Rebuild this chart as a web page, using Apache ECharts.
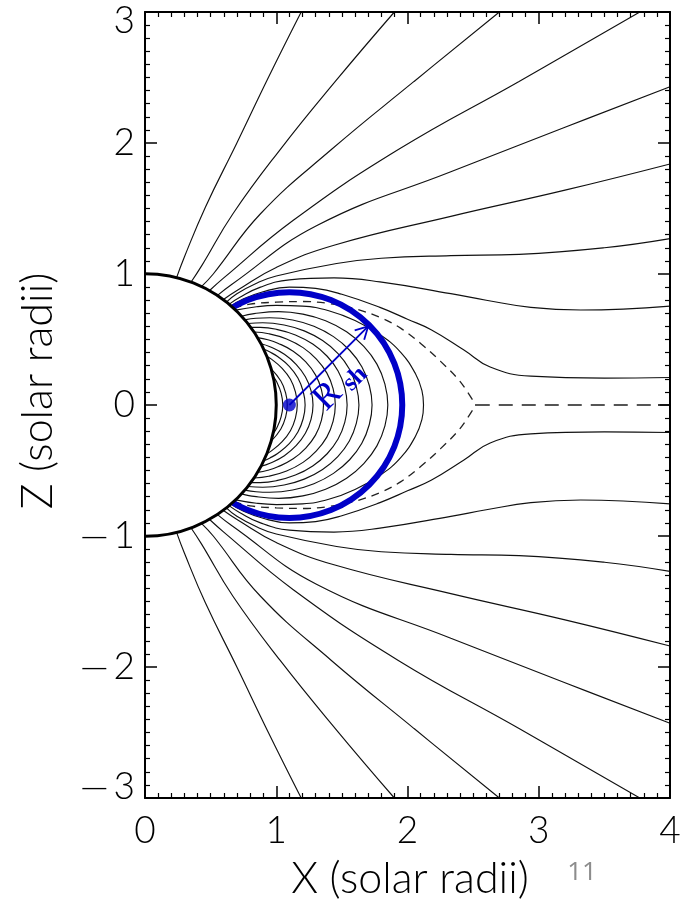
<!DOCTYPE html>
<html><head><meta charset="utf-8">
<script src="https://cdn.jsdelivr.net/npm/echarts/dist/echarts.min.js"></script>
<style>html,body{margin:0;padding:0;background:#fff}#c{width:683px;height:902px}</style>
</head><body><div id="c"></div>
<script>
// ---------- data ----------
const xTicks = [0, 1, 2, 3, 4];
const zTicks = [-3, -2, -1, 0, 1, 2, 3];
const xTitle = 'X (solar radii)';
const zTitle = 'Z (solar radii)';
const pageNumber = '11';

// Sun (center x, center z, radius) and the blue source-surface circle
const sun = [0, 0, 1];
const shieldCircle = [1.1, 0, 0.86];
const shieldCenter = [[1.1, 0]];
const radiusArrow = [1.1, 0, 1.70, 0.60];

// open field lines, northern hemisphere
const fieldN1 = [[0.24,0.97],[0.30,1.13],[0.46,1.51],[0.70,2.0],[0.94,2.5],[1.19,3.0]];
const fieldN2 = [[0.35,0.937],[0.43,1.06],[0.67,1.46],[1.03,1.95],[1.45,2.47],[1.90,3.0]];
const fieldN3 = [[0.43,0.903],[0.52,1.0],[0.88,1.46],[1.42,1.95],[2.05,2.47],[2.70,3.0]];
const fieldN4 = [[0.49,0.872],[0.60,0.97],[1.13,1.41],[1.93,1.95],[2.85,2.47],[3.77,3.0]];
const fieldN5 = [[0.55,0.835],[0.66,0.92],[1.31,1.37],[2.33,1.78],[3.2,2.12],[4.0,2.43]];
const fieldN6 = [[0.595,0.804],[0.71,0.88],[1.0,1.05],[1.44,1.22],[2.33,1.44],[3.2,1.64],[4.0,1.84]];
const fieldN7 = [[0.62,0.785],[0.70,0.85],[0.85,0.93],[1.0,0.985],[1.46,1.08],[1.8,1.12],[2.33,1.14],[2.85,1.15],[3.5,1.2],[4.0,1.27]];
const fieldN8 = [[0.64,0.768],[0.72,0.82],[0.88,0.90],[1.1,0.955],[1.44,0.97],[1.79,0.94],[2.33,0.85],[2.6,0.80],[2.94,0.745],[3.32,0.725],[4.0,0.755]];
const fieldN9 = [[0.655,0.756],[0.74,0.805],[0.9,0.865],[1.1,0.9],[1.3,0.89],[1.5,0.845],[1.79,0.745],[2.0,0.655],[2.18,0.575],[2.43,0.42],[2.63,0.29],[2.94,0.22],[3.5,0.205],[4.0,0.21]];

// open field lines, southern hemisphere
const fieldS1 = [[0.24,-0.97],[0.30,-1.13],[0.46,-1.51],[0.70,-2.0],[0.94,-2.5],[1.19,-3.0]];
const fieldS2 = [[0.35,-0.937],[0.43,-1.06],[0.67,-1.46],[1.03,-1.95],[1.45,-2.47],[1.90,-3.0]];
const fieldS3 = [[0.43,-0.903],[0.52,-1.0],[0.88,-1.46],[1.42,-1.95],[2.05,-2.47],[2.70,-3.0]];
const fieldS4 = [[0.49,-0.872],[0.60,-0.97],[1.13,-1.41],[1.93,-1.95],[2.85,-2.47],[3.77,-3.0]];
const fieldS5 = [[0.55,-0.835],[0.66,-0.92],[1.31,-1.37],[2.33,-1.78],[3.2,-2.12],[4.0,-2.43]];
const fieldS6 = [[0.595,-0.804],[0.71,-0.88],[1.0,-1.05],[1.44,-1.22],[2.33,-1.44],[3.2,-1.64],[4.0,-1.84]];
const fieldS7 = [[0.62,-0.785],[0.70,-0.85],[0.85,-0.93],[1.0,-0.985],[1.46,-1.08],[1.8,-1.12],[2.33,-1.14],[2.85,-1.15],[3.5,-1.2],[4.0,-1.27]];
const fieldS8 = [[0.64,-0.768],[0.72,-0.82],[0.88,-0.90],[1.1,-0.955],[1.44,-0.97],[1.79,-0.94],[2.33,-0.85],[2.6,-0.80],[2.94,-0.745],[3.32,-0.725],[4.0,-0.755]];
const fieldS9 = [[0.655,-0.756],[0.74,-0.805],[0.9,-0.865],[1.1,-0.9],[1.3,-0.89],[1.5,-0.845],[1.79,-0.745],[2.0,-0.655],[2.18,-0.575],[2.43,-0.42],[2.63,-0.29],[2.94,-0.22],[3.5,-0.205],[4.0,-0.21]];

// closed loops
const loop1 = [[0.976,0.218],[1.003,0.177],[1.037,0.091],[1.05,0],[1.037,-0.091],[1.003,-0.177],[0.976,-0.218]];
const loop2 = [[0.96,0.278],[1.035,0.183],[1.071,0.094],[1.084,0],[1.071,-0.094],[1.035,-0.183],[0.96,-0.278]];
const loop3 = [[0.928,0.371],[0.963,0.35],[1.045,0.28],[1.108,0.196],[1.146,0.1],[1.16,0],[1.146,-0.1],[1.108,-0.196],[1.045,-0.28],[0.963,-0.35],[0.928,-0.371]];
const loop4 = [[0.905,0.425],[0.952,0.404],[1.013,0.368],[1.099,0.295],[1.165,0.206],[1.205,0.105],[1.22,0],[1.205,-0.105],[1.165,-0.206],[1.099,-0.295],[1.013,-0.368],[0.952,-0.404],[0.905,-0.425]];
const loop5 = [[0.884,0.468],[0.952,0.445],[1.062,0.387],[1.153,0.309],[1.222,0.216],[1.265,0.11],[1.28,0],[1.265,-0.11],[1.222,-0.216],[1.153,-0.309],[1.062,-0.387],[0.952,-0.445],[0.884,-0.468]];
const loop6 = [[0.857,0.514],[0.936,0.498],[1.012,0.472],[1.129,0.411],[1.225,0.329],[1.299,0.23],[1.344,0.117],[1.36,0],[1.344,-0.117],[1.299,-0.23],[1.225,-0.329],[1.129,-0.411],[1.012,-0.472],[0.936,-0.498],[0.857,-0.514]];
const loop7 = [[0.83,0.557],[0.943,0.544],[1.079,0.504],[1.204,0.438],[1.306,0.35],[1.385,0.245],[1.433,0.125],[1.45,0],[1.433,-0.125],[1.385,-0.245],[1.306,-0.35],[1.204,-0.438],[1.079,-0.504],[0.943,-0.544],[0.83,-0.557]];
const loop8 = [[0.806,0.592],[0.878,0.592],[1.001,0.578],[1.146,0.535],[1.278,0.465],[1.388,0.372],[1.471,0.26],[1.522,0.133],[1.54,0],[1.522,-0.133],[1.471,-0.26],[1.388,-0.372],[1.278,-0.465],[1.146,-0.535],[1.001,-0.578],[0.878,-0.592],[0.806,-0.592]];
const loop9 = [[0.783,0.622],[0.897,0.628],[1.06,0.611],[1.213,0.566],[1.353,0.492],[1.469,0.394],[1.557,0.275],[1.61,0.141],[1.63,0],[1.61,-0.141],[1.557,-0.275],[1.469,-0.394],[1.353,-0.492],[1.213,-0.566],[1.06,-0.611],[0.897,-0.628],[0.783,-0.622]];
const loop10 = [[0.76,0.65],[0.846,0.662],[0.952,0.666],[1.125,0.649],[1.287,0.601],[1.436,0.522],[1.559,0.418],[1.652,0.292],[1.709,0.149],[1.73,0],[1.709,-0.149],[1.652,-0.292],[1.559,-0.418],[1.436,-0.522],[1.287,-0.601],[1.125,-0.649],[0.952,-0.666],[0.846,-0.662],[0.76,-0.65]];
const loop11 = [[0.735,0.678],[0.831,0.698],[1.018,0.713],[1.203,0.694],[1.376,0.643],[1.536,0.559],[1.667,0.447],[1.767,0.312],[1.828,0.16],[1.85,0],[1.828,-0.16],[1.767,-0.312],[1.667,-0.447],[1.536,-0.559],[1.376,-0.643],[1.203,-0.694],[1.018,-0.713],[0.831,-0.698],[0.735,-0.678]];
const loop12 = [[0.69,0.724],[0.85,0.75],[1.0,0.76],[1.2,0.755],[1.4,0.72],[1.6,0.645],[1.8,0.53],[1.95,0.40],[2.06,0.24],[2.11,0.11],[2.122,0],[2.11,-0.11],[2.06,-0.24],[1.95,-0.40],[1.8,-0.53],[1.6,-0.645],[1.4,-0.72],[1.2,-0.755],[1.0,-0.76],[0.85,-0.75],[0.69,-0.724]];

// separatrix (dashed) and current sheet
const separatrixN = [[0.675,0.738],[0.8,0.77],[1.0,0.785],[1.2,0.79],[1.4,0.775],[1.6,0.735],[1.8,0.665],[1.95,0.585],[2.1,0.47],[2.25,0.335],[2.4,0.18],[2.52,0]];
const separatrixS = [[0.675,-0.738],[0.8,-0.77],[1.0,-0.785],[1.2,-0.79],[1.4,-0.775],[1.6,-0.735],[1.8,-0.665],[1.95,-0.585],[2.1,-0.47],[2.25,-0.335],[2.4,-0.18],[2.52,0]];
const currentSheet = [[2.52,0],[4.0,0]];

// ---------- chart ----------
const BLUE = '#0000c8';
const FONT = 'Lato, "Liberation Sans", Arial, sans-serif';
const FW = 300;
const openLines = [fieldN1,fieldN2,fieldN3,fieldN4,fieldN5,fieldN6,fieldN7,fieldN8,fieldN9,
                   fieldS1,fieldS2,fieldS3,fieldS4,fieldS5,fieldS6,fieldS7,fieldS8,fieldS9];
const loops = [loop1,loop2,loop3,loop4,loop5,loop6,loop7,loop8,loop9,loop10,loop11,loop12];

function fieldSeries(d) {
  return {type:'line', data:d, smooth:0.45, showSymbol:false, symbol:'none', silent:true,
    z:2, clip:true, lineStyle:{color:'#111', width:1.15}};
}
const series = [];
openLines.forEach(d => series.push(fieldSeries(d)));
loops.forEach(d => series.push(fieldSeries(d)));
[separatrixN, separatrixS].forEach(d => series.push({type:'line', data:d, smooth:0.35, showSymbol:false,
  symbol:'none', silent:true, z:2, lineStyle:{color:'#222', width:1.3, type:[8,6]}}));
series.push({type:'line', data:currentSheet, showSymbol:false, symbol:'none', silent:true, z:2,
  lineStyle:{color:'#555', width:2, type:[14,9]}});

function circleSeries(c, style, z) {
  return {type:'custom', coordinateSystem:'cartesian2d', clip:true, z:z, silent:true,
    encode:{x:0, y:1}, data:[c],
    renderItem:(params, api) => {
      const p = api.coord([api.value(0), api.value(1)]);
      const r = api.size([api.value(2), api.value(2)])[0];
      return {type:'circle', shape:{cx:p[0], cy:p[1], r:r}, style:style};
    }};
}
series.push(circleSeries(shieldCircle, {fill:null, stroke:BLUE, lineWidth:6}, 3));
series.push(circleSeries(sun, {fill:'#fff', stroke:'#000', lineWidth:3}, 4));
series.push({type:'scatter', data:shieldCenter, symbol:'circle', symbolSize:13, z:6, silent:true,
  itemStyle:{color:BLUE}});
series.push({type:'custom', coordinateSystem:'cartesian2d', z:6, silent:true, encode:{x:0, y:1},
  data:[radiusArrow],
  renderItem:(params, api) => {
    const p0 = api.coord([api.value(0), api.value(1)]);
    const p1 = api.coord([api.value(2), api.value(3)]);
    const dx = p1[0]-p0[0], dy = p1[1]-p0[1];
    const L = Math.hypot(dx, dy), ang = Math.atan2(dy, dx);
    const u = [dx/L, dy/L], n = [-u[1], u[0]];
    const hl = 14, ha = 0.5;
    const h1 = [p1[0]-hl*Math.cos(ang-ha), p1[1]-hl*Math.sin(ang-ha)];
    const h2 = [p1[0]-hl*Math.cos(ang+ha), p1[1]-hl*Math.sin(ang+ha)];
    const rp = [p0[0]+0.30*L*u[0]+21*n[0], p0[1]+0.30*L*u[1]+21*n[1]];
    const sp = [p0[0]+0.585*L*u[0]+28*n[0], p0[1]+0.585*L*u[1]+28*n[1]];
    return {type:'group', children:[
      {type:'line', shape:{x1:p0[0], y1:p0[1], x2:p1[0], y2:p1[1]}, style:{stroke:BLUE, lineWidth:1.8}},
      {type:'polyline', shape:{points:[h1, p1, h2]}, style:{stroke:BLUE, lineWidth:1.8, fill:null}},
      {type:'text', x:rp[0], y:rp[1], rotation:-ang,
        style:{text:'R', fill:BLUE, fontSize:37, fontFamily:'"Liberation Serif", "DejaVu Serif", serif',
          align:'center', verticalAlign:'middle'}},
      {type:'text', x:sp[0], y:sp[1], rotation:-ang,
        style:{text:'sh', fill:BLUE, fontSize:25, fontWeight:'bold', fontFamily:'"Liberation Serif", "DejaVu Serif", serif',
          align:'center', verticalAlign:'middle'}}
    ]};
  }});

const axisCommon = {
  type:'value', z:10,
  axisLine:{show:true, onZero:false, lineStyle:{color:'#000', width:2}},
  axisTick:{show:true, inside:true, length:12, lineStyle:{color:'#000', width:1.5}},
  minorTick:{show:true, splitNumber:10, length:5, lineStyle:{color:'#000', width:1.2}},
  splitLine:{show:false}, minorSplitLine:{show:false}
};
const labelStyle = {fontSize:37, color:'#000', fontFamily:FONT, fontWeight:FW};
const fmtX = v => String(v);
const fmtZ = v => {
  const s = v < 0 ? '\u2014\u2009' + Math.abs(v) : String(v);
  if (v === zTicks[zTicks.length-1]) return '{t|' + s + '}';
  if (v === zTicks[0]) return '{b|' + s + '}';
  return s;
};

const option = {
  animation:false,
  backgroundColor:'#fff',
  grid:{left:145, right:13, top:12, bottom:104, containLabel:false, outerBoundsMode:'none'},
  xAxis:[
    Object.assign({}, axisCommon, {min:xTicks[0], max:xTicks[xTicks.length-1], interval:1, position:'bottom',
      axisLabel:Object.assign({show:true, margin:15, showMinLabel:true, showMaxLabel:true, formatter:fmtX}, labelStyle)}),
    Object.assign({}, axisCommon, {min:xTicks[0], max:xTicks[xTicks.length-1], interval:1, position:'top',
      axisLabel:{show:false}})
  ],
  yAxis:[
    Object.assign({}, axisCommon, {min:zTicks[0], max:zTicks[zTicks.length-1], interval:1, position:'left',
      axisLabel:Object.assign({show:true, margin:10, showMinLabel:true, showMaxLabel:true, formatter:fmtZ,
        rich:{
          t:Object.assign({padding:[18,0,0,0]}, labelStyle),
          b:Object.assign({padding:[0,0,22,0]}, labelStyle)
        }}, labelStyle)}),
    Object.assign({}, axisCommon, {min:zTicks[0], max:zTicks[zTicks.length-1], interval:1, position:'right',
      axisLabel:{show:false}})
  ],
  graphic:[
    {type:'text', x:410, y:879, silent:true,
      style:{text:xTitle, fill:'#000', fontSize:43, fontFamily:FONT, fontWeight:FW, align:'center', verticalAlign:'middle'}},
    {type:'text', x:38, y:391, rotation:Math.PI/2, silent:true,
      style:{text:zTitle, fill:'#000', fontSize:43, fontFamily:FONT, fontWeight:FW, align:'center', verticalAlign:'middle'}},
    {type:'text', x:582, y:873, silent:true,
      style:{text:pageNumber, fill:'#8c8c8c', fontSize:26, fontFamily:'"Open Sans", "Liberation Sans", sans-serif',
        align:'center', verticalAlign:'middle'}}
  ],
  series:series
};
const chart = echarts.init(document.getElementById('c'), null, {renderer:'canvas'});
chart.setOption(option);
</script>
</body></html>
